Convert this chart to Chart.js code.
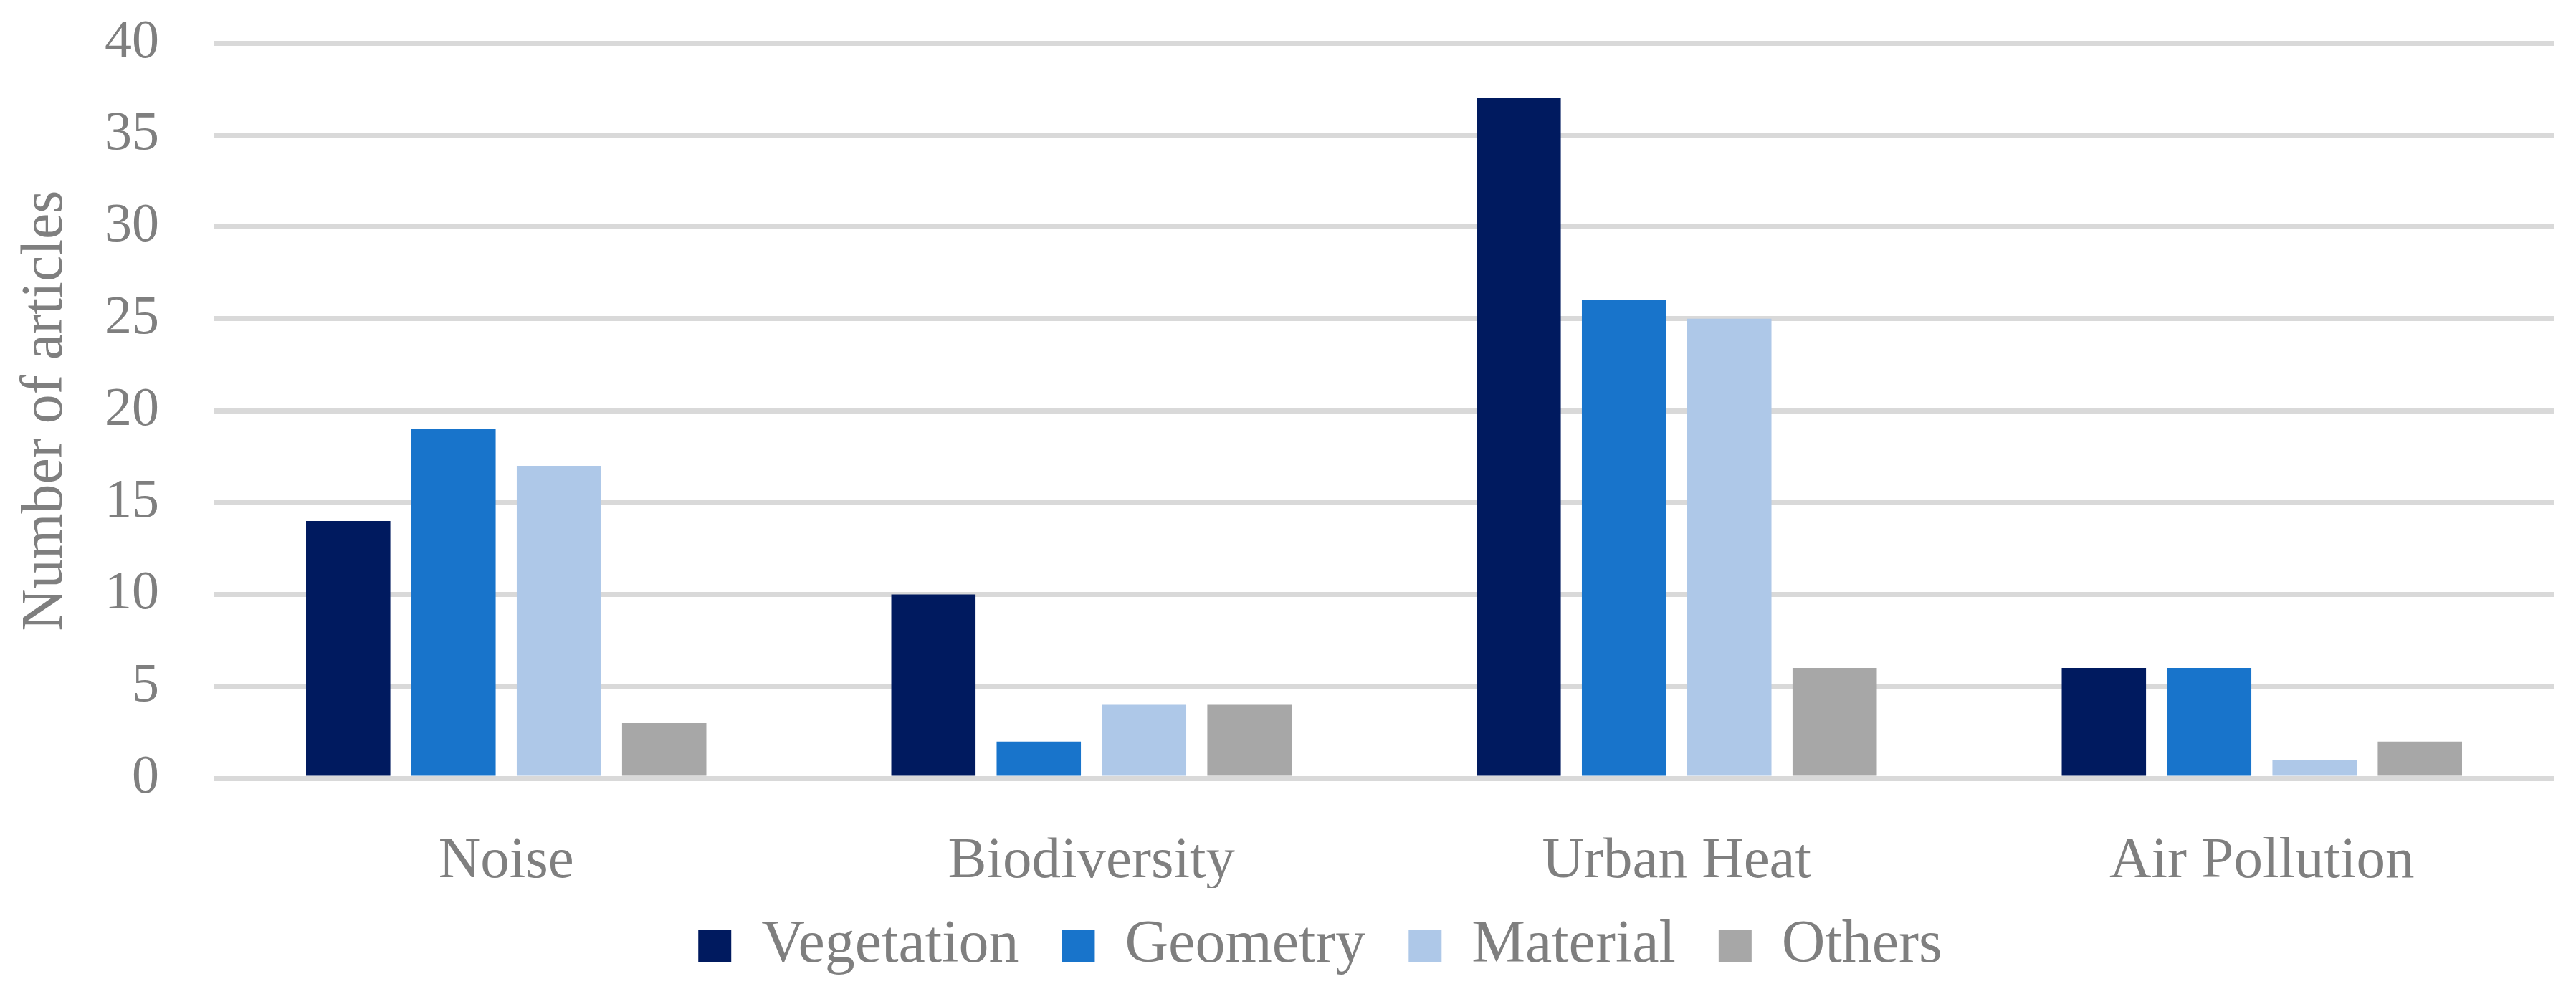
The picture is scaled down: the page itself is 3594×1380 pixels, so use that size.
<!DOCTYPE html>
<html>
<head>
<meta charset="utf-8">
<script src="https://cdn.jsdelivr.net/npm/chart.js@4.4.1/dist/chart.umd.min.js"></script>
<style>
html,body{margin:0;padding:0;background:#fff;}
#wrap{width:3594px;height:1380px;}
</style>
</head>
<body>
<div id="wrap"><canvas id="c" width="3594" height="1380"></canvas></div>
<script>
const categories = ["Noise", "Biodiversity", "Urban Heat", "Air Pollution"];
const seriesNames = ["Vegetation", "Geometry", "Material", "Others"];
const vegetation = [14, 10, 37, 6];
const geometry = [19, 2, 26, 6];
const material = [17, 4, 25, 1];
const others = [3, 4, 6, 2];
const yTicks = [0, 5, 10, 15, 20, 25, 30, 35, 40];
const colors = ["#001A5F", "#1874CB", "#AEC8E8", "#A7A7A7"];

const FONT = "'Liberation Serif', 'DejaVu Serif', serif";
const TXT = "#7F7F7F";

const bg = {
  id: 'bg',
  beforeDraw(chart) {
    const ctx = chart.ctx;
    ctx.save();
    ctx.fillStyle = '#ffffff';
    ctx.fillRect(0, 0, chart.width, chart.height);
    ctx.restore();
  }
};

const legendShift = {
  id: 'legendShift',
  afterLayout(chart) {
    if (chart.legend) {
      chart.legend.left += 60;
      chart.legend.right += 60;
    }
  }
};

const seriesData = [vegetation, geometry, material, others];
new Chart(document.getElementById('c'), {
  type: 'bar',
  data: {
    labels: categories,
    datasets: seriesNames.map((n, i) => ({
      label: n,
      data: seriesData[i],
      backgroundColor: colors[i],
      borderWidth: 0,
      categoryPercentage: 0.72,
      barPercentage: 0.8
    }))
  },
  options: {
    responsive: false,
    devicePixelRatio: 1,
    animation: false,
    layout: { padding: { left: 0, right: 30, top: 60, bottom: 8 } },
    plugins: {
      legend: {
        position: 'bottom',
        labels: {
          color: TXT,
          font: { family: FONT, size: 84 },
          boxWidth: 46,
          boxHeight: 46,
          padding: 39,
          generateLabels(chart) {
            const items = Chart.defaults.plugins.legend.labels.generateLabels(chart);
            items.forEach((it, i) => { if (i < items.length - 1) it.text = it.text + ' '; });
            return items;
          }
        }
      },
      tooltip: { enabled: false }
    },
    scales: {
      x: {
        grid: { display: false, drawTicks: false },
        border: { display: false },
        ticks: { color: TXT, font: { family: FONT, size: 81 }, padding: 68 },
        afterFit(scale) { scale.height = 153; }
      },
      y: {
        min: 0,
        max: 40,
        afterBuildTicks(axis) { axis.ticks = yTicks.map(v => ({ value: v })); },
        grid: { color: '#D9D9D9', lineWidth: 7, drawTicks: false },
        border: { display: false },
        ticks: { color: TXT, font: { family: FONT, size: 76 }, padding: 76 },
        title: {
          display: true,
          text: 'Number of articles',
          color: TXT,
          font: { family: FONT, size: 82 },
          padding: { top: 15, bottom: 0 }
        },
        afterFit(scale) {
          scale.width = 298;
          scale.paddingTop = 0;
          scale.paddingBottom = 0;
        }
      }
    }
  },
  plugins: [bg, legendShift]
});
</script>
</body>
</html>
